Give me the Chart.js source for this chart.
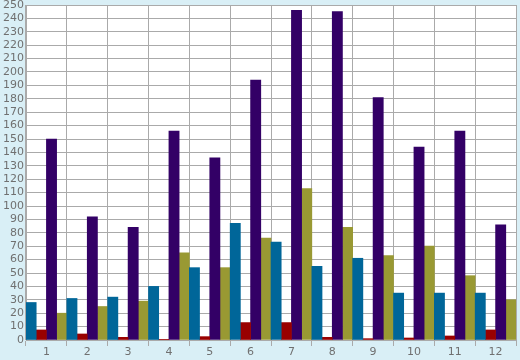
<!DOCTYPE html>
<html>
<head>
<meta charset="utf-8">
<script src="https://cdn.jsdelivr.net/npm/chart.js@4/dist/chart.umd.min.js"></script>
<style>
  html, body { margin: 0; padding: 0; background: #d9eff6; }
  #wrap { width: 520px; height: 360px; }
</style>
</head>
<body>
<div id="wrap"><canvas id="chart" width="520" height="360"></canvas></div>
<script>
// chart data
const categories = ['1', '2', '3', '4', '5', '6', '7', '8', '9', '10', '11', '12'];
const blueValues = [28, 31, 32, 40, 54, 87, 73, 55, 61, 35, 35, 35];
const redValues = [7.5, 4.5, 2, 0.5, 2.5, 13, 13, 2, 1, 1.5, 3, 7.5];
const purpleValues = [150, 92, 84, 156, 136, 194, 246, 245, 181, 144, 156, 86];
const oliveValues = [20, 25, 29, 65, 54, 76, 113, 84, 63, 70, 48, 30];

const colors = {
  blue: '#006699',
  red: '#990000',
  purple: '#330066',
  olive: '#999933',
  grid: '#aaaaaa',
  text: '#707070'
};

// white plot area behind the grid
const plotBackground = {
  id: 'plotBackground',
  beforeDraw(chart) {
    const { ctx, chartArea } = chart;
    ctx.save();
    ctx.fillStyle = '#ffffff';
    ctx.fillRect(chartArea.left, chartArea.top, chartArea.right - chartArea.left, chartArea.bottom - chartArea.top);
    ctx.restore();
  }
};

function makeDataset(label, data, color) {
  return {
    label: label,
    data: data,
    backgroundColor: color,
    borderWidth: 0,
    barPercentage: 1,
    categoryPercentage: 1
  };
}

new Chart(document.getElementById('chart'), {
  type: 'bar',
  data: {
    labels: categories,
    datasets: [
      makeDataset('A', blueValues, colors.blue),
      makeDataset('B', redValues, colors.red),
      makeDataset('C', purpleValues, colors.purple),
      makeDataset('D', oliveValues, colors.olive)
    ]
  },
  options: {
    responsive: false,
    animation: false,
    layout: { padding: { top: 5, right: 4, left: 0, bottom: 0 } },
    plugins: {
      legend: { display: false },
      tooltip: { enabled: false }
    },
    scales: {
      x: {
        grid: { color: colors.grid, lineWidth: 1, offset: true, tickLength: 6, drawTicks: true },
        border: { color: colors.grid },
        ticks: { color: colors.text, font: { family: 'DejaVu Sans', size: 11 }, padding: 0 },
        afterFit: scale => { scale.height = 20; }
      },
      y: {
        min: 0,
        max: 250,
        grid: { color: colors.grid, lineWidth: 1, drawTicks: false },
        border: { color: colors.grid },
        ticks: {
          stepSize: 10,
          autoSkip: false,
          color: colors.text,
          font: { family: 'DejaVu Sans', size: 11 },
          padding: 2
        },
        afterFit: scale => {
          scale.width = 26;
          // keep the top of the plot close to the canvas edge
          scale.paddingTop = 0;
        }
      }
    }
  },
  plugins: [plotBackground]
});
</script>
</body>
</html>
